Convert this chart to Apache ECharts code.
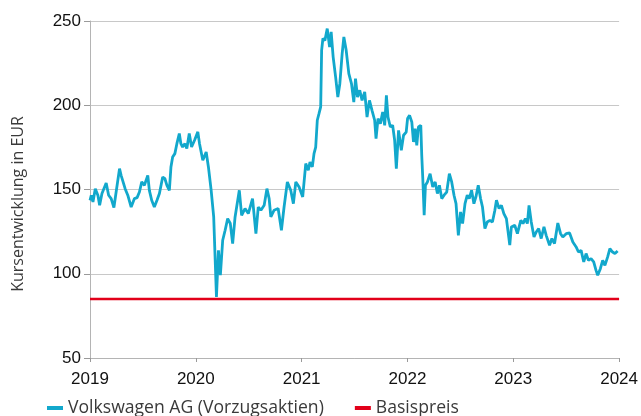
<!DOCTYPE html>
<html>
<head>
<meta charset="utf-8">
<script src="https://cdn.jsdelivr.net/npm/echarts@6/dist/echarts.min.js"></script>
<style>
  html, body { margin: 0; padding: 0; background: #fff; }
  #chart { width: 641px; height: 416px; }
</style>
</head>
<body>
<div id="chart"></div>
<script>
// time as decimal years
var years = [
  2019.000, 2019.012, 2019.028, 2019.050, 2019.075, 2019.091, 2019.113, 2019.153, 2019.176, 2019.200,
  2019.226, 2019.247, 2019.279, 2019.294, 2019.310, 2019.332, 2019.357, 2019.389, 2019.420, 2019.445,
  2019.467, 2019.489, 2019.514, 2019.546, 2019.561, 2019.583, 2019.608, 2019.633, 2019.656, 2019.687,
  2019.708, 2019.727, 2019.750, 2019.765, 2019.781, 2019.802, 2019.821, 2019.844, 2019.859, 2019.875,
  2019.897, 2019.915, 2019.938, 2019.960, 2019.988,
  2020.019, 2020.035, 2020.066, 2020.098, 2020.119, 2020.145, 2020.169, 2020.195, 2020.214, 2020.232,
  2020.254, 2020.277, 2020.301, 2020.326, 2020.348, 2020.371, 2020.411, 2020.433, 2020.465, 2020.496,
  2020.536, 2020.568, 2020.590, 2020.615, 2020.646, 2020.672, 2020.693, 2020.709, 2020.740, 2020.778,
  2020.809, 2020.834, 2020.865, 2020.897, 2020.922, 2020.945, 2020.976,
  2021.010, 2021.039, 2021.063, 2021.079, 2021.101, 2021.117, 2021.133, 2021.148, 2021.164, 2021.180,
  2021.189, 2021.201, 2021.220, 2021.242, 2021.264, 2021.279, 2021.298, 2021.321, 2021.342, 2021.361,
  2021.383, 2021.399, 2021.421, 2021.446, 2021.471, 2021.493, 2021.509, 2021.528, 2021.549, 2021.571,
  2021.596, 2021.618, 2021.641, 2021.665, 2021.690, 2021.703, 2021.722, 2021.744, 2021.766, 2021.785,
  2021.801, 2021.816, 2021.838, 2021.860, 2021.879, 2021.895, 2021.916, 2021.942, 2021.963, 2021.988,
  2022.001, 2022.020, 2022.041, 2022.057, 2022.073, 2022.088, 2022.104, 2022.126, 2022.135, 2022.145,
  2022.158, 2022.170, 2022.189, 2022.214, 2022.239, 2022.262, 2022.283, 2022.302, 2022.324, 2022.346,
  2022.371, 2022.396, 2022.418, 2022.440, 2022.459, 2022.481, 2022.502, 2022.521, 2022.544, 2022.565,
  2022.584, 2022.606, 2022.628, 2022.647, 2022.669, 2022.691, 2022.709, 2022.732, 2022.754, 2022.779,
  2022.803, 2022.826, 2022.841, 2022.866, 2022.888, 2022.911, 2022.935, 2022.967, 2022.982,
  2023.014, 2023.039, 2023.071, 2023.092, 2023.114, 2023.133, 2023.149, 2023.170, 2023.196, 2023.217,
  2023.240, 2023.264, 2023.290, 2023.311, 2023.343, 2023.365, 2023.390, 2023.421, 2023.447, 2023.468,
  2023.500, 2023.532, 2023.563, 2023.594, 2023.616, 2023.641, 2023.666, 2023.688, 2023.710, 2023.735,
  2023.760, 2023.782, 2023.798, 2023.823, 2023.845, 2023.866, 2023.892, 2023.913, 2023.938, 2023.961,
  2023.986
];
var vwValues = [
  143.6, 146.6, 142.6, 150.5, 146.4, 140.6, 147.6, 153.9, 146.6, 144.6,
  139.3, 148.5, 162.4, 158.4, 159.4, 150.5, 146.6, 139.6, 144.6, 145.2,
  148.5, 154.5, 152.5, 158.4, 149.5, 143.6, 139.6, 143.6, 147.6, 157.4,
  156.4, 152.5, 149.5, 163.4, 169.3, 171.3, 177.2, 183.2, 177.2, 175.2,
  177.2, 174.3, 183.2, 175.2, 179.2,
  184.2, 177.2, 167.3, 172.3, 163.4, 149.5, 133.7, 86.2, 113.9, 99.1,
  119.9, 125.8, 132.7, 129.8, 117.9, 133.7, 149.5, 134.7, 138.7, 135.7,
  144.6, 123.8, 139.6, 137.7, 140.6, 150.5, 144.6, 133.7, 137.7, 138.7,
  125.8, 139.6, 154.5, 149.5, 141.6, 154.5, 151.5,
  145.6, 165.4, 161.4, 166.3, 163.4, 171.3, 175.2, 191.1, 195.0, 199.0,
  232.6, 239.6, 238.5, 245.5, 234.6, 243.5, 228.6, 216.8, 204.9, 212.8,
  230.6, 240.5, 232.6, 218.8, 212.8, 201.9, 215.8, 204.9, 208.9, 202.9,
  207.9, 193.0, 202.9, 197.0, 191.1, 180.2, 192.1, 189.1, 196.0, 188.1,
  205.9, 193.0, 187.1, 188.1, 179.2, 162.4, 185.1, 173.3, 182.2, 184.1,
  192.1, 194.0, 190.1, 178.2, 186.1, 176.2, 187.1, 188.1, 170.3, 156.5,
  134.7, 152.5, 154.5, 159.4, 151.5, 154.5, 147.6, 152.5, 144.6, 146.6,
  148.5, 159.4, 154.5, 146.6, 141.6, 122.8, 136.7, 129.8, 141.6, 146.6,
  144.6, 149.5, 141.6, 145.6, 152.5, 144.6, 139.6, 126.8, 130.7, 131.7,
  130.7, 137.7, 143.6, 138.7, 140.6, 135.7, 132.7, 117.0, 127.8,
  128.8, 123.8, 131.7, 129.8, 132.7, 129.8, 140.6, 130.7, 121.8, 124.8,
  126.8, 120.9, 127.8, 122.8, 116.9, 120.9, 117.9, 130.1, 123.8, 121.8,
  123.8, 124.2, 118.8, 115.9, 112.9, 113.9, 107.0, 112.0, 108.0, 109.0,
  107.0, 102.0, 99.1, 103.0, 108.0, 105.0, 110.0, 114.9, 112.9, 112.0,
  113.5
];
var basisYears = [2019, 2024];
var basisValues = [85, 85];
var seriesNames = ['Volkswagen AG (Vorzugsaktien)', 'Basispreis'];
var yTicks = { min: 50, max: 250, step: 50 };
var xTicks = { min: 2019, max: 2024, step: 1 };

var vwData = years.map(function (t, i) { return [t, vwValues[i]]; });
var basisData = basisYears.map(function (t, i) { return [t, basisValues[i]]; });

var chart = echarts.init(document.getElementById('chart'), null, { renderer: 'canvas' });

chart.setOption({
  animation: false,
  grid: { left: 90, right: 19, top: 21, bottom: 58 },
  legend: {
    left: 47,
    top: 399,
    padding: 0,
    icon: 'rect',
    itemWidth: 16,
    itemHeight: 4,
    itemGap: 31,
    textStyle: { fontFamily: 'Open Sans', fontSize: 17.6, color: '#3a3a3a' },
    data: seriesNames
  },
  graphic: [{
    type: 'text',
    x: 18,
    y: 204,
    rotation: Math.PI / 2,
    style: {
      text: 'Kursentwicklung in EUR',
      fontFamily: 'Open Sans',
      fontSize: 16,
      fill: '#3a3a3a',
      align: 'center',
      verticalAlign: 'middle'
    }
  }],
  xAxis: {
    type: 'value',
    min: xTicks.min,
    max: xTicks.max,
    interval: xTicks.step,
    axisLine: { lineStyle: { color: '#b4b4b4', width: 1 } },
    axisTick: { show: true, length: 4, lineStyle: { color: '#9a9a9a' } },
    splitLine: { show: false },
    axisLabel: {
      margin: 13,
      fontFamily: 'Liberation Sans',
      fontSize: 17,
      color: '#111',
      formatter: function (v) { return String(v); }
    }
  },
  yAxis: {
    type: 'value',
    min: yTicks.min,
    max: yTicks.max,
    interval: yTicks.step,
    axisLine: { show: true, lineStyle: { color: '#b4b4b4', width: 1 } },
    axisTick: { show: true, length: 6, lineStyle: { color: '#9a9a9a' } },
    splitLine: { lineStyle: { color: '#c8c8c8', width: 1.2 } },
    axisLabel: {
      margin: 9,
      fontFamily: 'Liberation Sans',
      fontSize: 17,
      color: '#111'
    }
  },
  series: [
    {
      name: seriesNames[0],
      type: 'line',
      data: vwData,
      showSymbol: false,
      lineStyle: { color: '#12a8cc', width: 2.8 },
      itemStyle: { color: '#12a8cc' },
      z: 3
    },
    {
      name: seriesNames[1],
      type: 'line',
      data: basisData,
      showSymbol: false,
      lineStyle: { color: '#e2001a', width: 2.4 },
      itemStyle: { color: '#e2001a' },
      z: 2
    }
  ]
});
</script>
</body>
</html>
